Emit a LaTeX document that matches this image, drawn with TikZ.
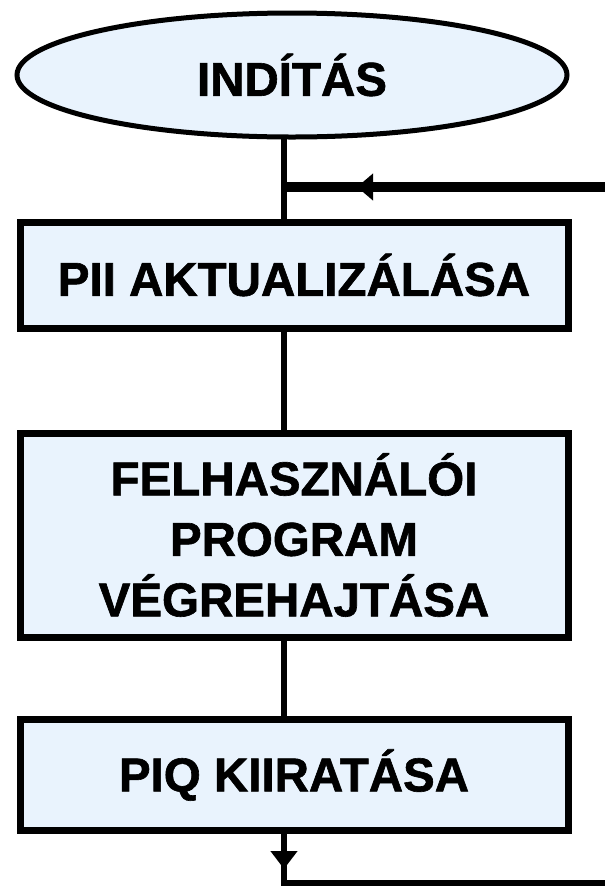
\documentclass[tikz,border=0pt]{standalone}
\usepackage{fontspec}
\setmainfont{Liberation Sans}
\newfontfamily\heavyfont[FakeBold=1.3]{Liberation Sans Bold}
\usetikzlibrary{shapes.geometric,arrows.meta}
\definecolor{boxfill}{RGB}{233,243,253}
\tikzset{
  stepbox/.style={draw=black, line width=7pt, fill=boxfill, rectangle,
    minimum width=548pt, inner sep=0pt, align=center,
    font=\fontsize{47.5}{60.5}\heavyfont},
  startshape/.style={draw=black, line width=5pt, fill=boxfill, ellipse,
    minimum width=550pt, minimum height=124pt, inner sep=0pt,
    font=\fontsize{47.5}{56}\heavyfont},
  conn/.style={line width=6pt, draw=black},
  loopline/.style={line width=6pt, draw=black, line join=miter},
}
\begin{document}
\begin{tikzpicture}[x=1pt,y=-1pt]
  \useasboundingbox (0,0) rectangle (605,887);
  \fill[white] (0,0) rectangle (605,887);

  \coordinate (j) at (284,187);
  \coordinate (tipdown) at (284,869);
  \coordinate (bl) at (284,883);
  \coordinate (br) at (607.6,883);
  \coordinate (tr) at (607.6,187);
  \coordinate (tipleft) at (357,187);

  % connectors (behind nodes)
  \draw[conn] (284,120) -- (284,240);
  \draw[conn] (284,310) -- (284,450);
  \draw[conn] (284,620) -- (284,735);
  \draw[conn] (284,815) -- (tipdown);
  \draw[loopline] (tipdown) -- (bl) -- (br) -- (tr);
  \draw[line width=10pt] (tr) -- (j);

  \node[startshape] (start) at (292,75) {INDÍTÁS};
  \node[stepbox, minimum height=106pt] (b1) at (294,275) {PII AKTUALIZÁLÁSA};
  \node[stepbox, minimum height=204pt] (b2) at (294,535) {FELHASZNÁLÓI\\PROGRAM\\VÉGREHAJTÁSA};
  \node[stepbox, minimum height=111pt] (b3) at (294,775) {PIQ KIIRATÁSA};

  % arrowheads
  \draw[conn, -{Triangle[length=18pt,width=26pt]}] (j |- b3.south) -- (tipdown);
  \draw[line width=10pt, -{Triangle[length=16pt,width=26pt]}] (tr) -- (tipleft);
\end{tikzpicture}
\end{document}
